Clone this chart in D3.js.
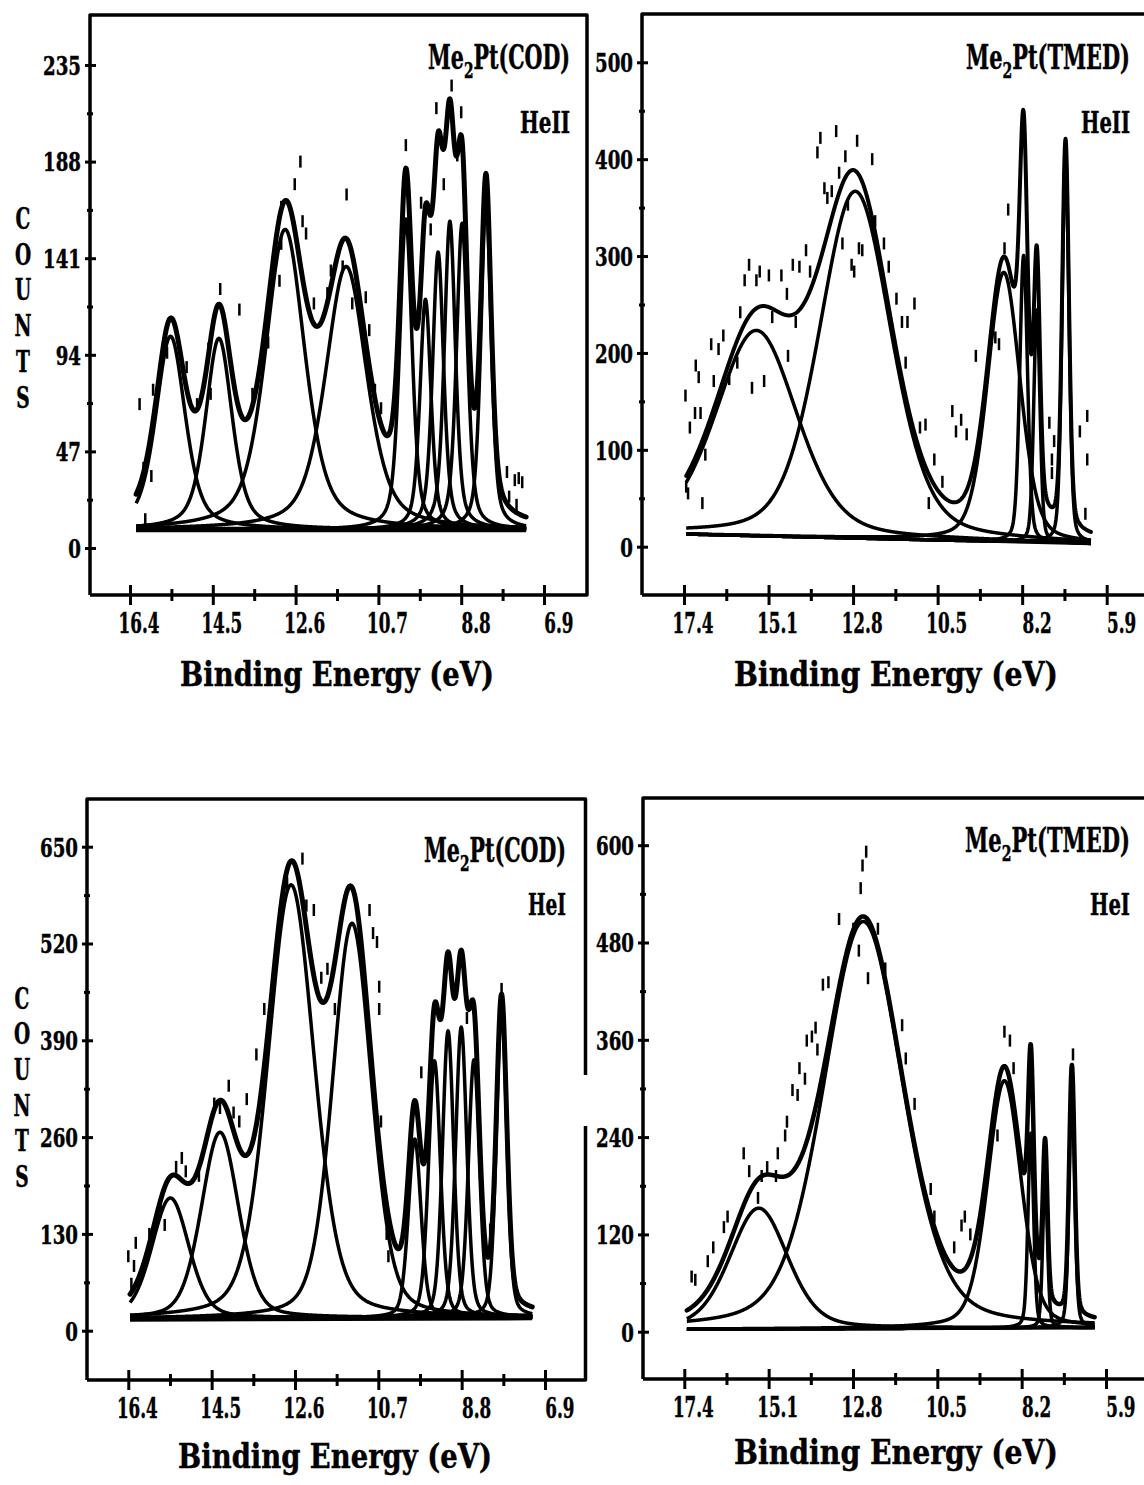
<!DOCTYPE html>
<html>
<head>
<meta charset="utf-8">
<script src="https://cdn.jsdelivr.net/npm/d3@7"></script>
<style>
  body { margin: 0; background: #fff; }
  text { font-family: "DejaVu Serif", serif; font-weight: bold; fill: #000; stroke: #000; stroke-width: 0.5px; }
</style>
</head>
<body>
<div id="chart"></div>
<script>
// axis tick labels
const codTicksX = [16.4, 14.5, 12.6, 10.7, 8.8, 6.9];
const tmedTicksX = [17.4, 15.1, 12.8, 10.5, 8.2, 5.9];
const heIICodTicksY = [0, 47, 94, 141, 188, 235];
const heIITmedTicksY = [0, 100, 200, 300, 400, 500];
const heICodTicksY = [0, 130, 260, 390, 520, 650];
const heITmedTicksY = [0, 120, 240, 360, 480, 600];

// fitted bands: centre (eV), height above background (counts), fwhm (eV)
const heIICodCenters = [15.47, 14.36, 12.84, 11.44, 10.07, 9.62, 9.33, 9.06, 8.78, 8.23];
const heIICodHeights = [94, 93, 146, 128, 151, 112, 135, 150, 149, 160];
const heIICodWidths  = [0.80, 0.72, 1.07, 1.12, 0.34, 0.30, 0.30, 0.30, 0.30, 0.28];
const heIICodBackground = [[16.26, 9], [7.31, 9]];

const heIITmedCenters = [15.43, 12.74, 8.70, 8.16, 7.80, 7.02];
const heIITmedHeights = [212, 358, 278, 296, 240, 402];
const heIITmedWidths  = [2.6, 2.3, 1.05, 0.25, 0.20, 0.22];
const heIITmedBackground = [[17.34, 13], [6.33, 3]];

const heICodCenters = [15.44, 14.31, 12.69, 11.30, 9.87, 9.42, 9.11, 8.81, 8.52, 7.89];
const heICodHeights = [162, 250, 582, 530, 240, 345, 385, 390, 346, 415];
const heICodWidths  = [1.0, 1.0, 1.25, 1.05, 0.34, 0.32, 0.30, 0.30, 0.30, 0.28];
const heICodBackground = [[16.36, 16], [7.19, 18]];

const heITmedCenters = [15.37, 12.52, 8.67, 7.95, 7.56, 6.83];
const heITmedHeights = [149, 502, 305, 240, 190, 308];
const heITmedWidths  = [1.86, 2.55, 1.08, 0.18, 0.15, 0.18];
const heITmedBackground = [[17.33, 3], [6.21, 5]];

// raw counts (eV, counts)
const heIICodPoints = [[16.18,70],[16.09,39],[16.05,14],[15.91,35],[15.87,77],[15.55,95],[15.10,88],[14.86,70],
  [14.60,97],[14.55,75],[14.33,126],[13.89,116],[13.59,75],[13.23,100],[12.97,130],[12.93,148],[12.93,166],
  [12.62,177],[12.49,188],[12.44,159],[12.36,153],[12.18,119],[11.87,124],[11.79,135],[11.52,137],[11.43,172],
  [11.30,119],[10.99,122],[10.91,106],[10.78,77],[10.64,68],[10.07,196],[9.72,168],[9.50,155],[9.37,214],
  [9.20,177],[9.02,225],[8.89,191],[8.80,212],[8.23,171],[7.75,37],[7.70,25],[7.57,33],[7.53,21],[7.48,34],[7.40,32]];

const heIITmedPoints = [[17.34,62],[17.29,55],[17.36,156],[17.24,123],[17.10,138],[17.08,187],[17.00,175],
  [16.95,138],[16.90,45],[16.82,95],[16.66,209],[16.59,171],[16.46,204],[16.33,218],[16.17,173],[15.95,190],
  [15.87,242],[15.75,275],[15.63,291],[15.55,164],[15.43,275],[15.34,284],[15.22,171],[15.09,280],[15.00,237],
  [14.75,280],[14.60,261],[14.57,197],[14.44,291],[14.36,232],[14.26,289],[14.08,306],[13.97,284],[13.77,407],
  [13.69,422],[13.58,370],[13.50,360],[13.38,367],[13.26,429],[13.18,386],[13.09,313],[13.01,403],[12.94,353],
  [12.84,291],[12.77,284],[12.69,419],[12.64,308],[12.55,306],[12.28,400],[12.20,336],[11.96,313],[11.83,289],
  [11.62,256],[11.47,232],[11.32,232],[11.37,190],[11.13,251],[10.98,123],[10.83,126],[10.74,45],[10.59,90],
  [10.37,67],[10.10,140],[10.00,119],[9.86,131],[9.71,116],[9.46,197],[9.32,123],[8.93,216],[8.83,209],
  [8.68,308],[8.58,348],[7.46,128],[7.39,90],[7.33,109],[7.39,76],[6.63,119],[6.43,135],[6.43,90],[6.48,34]];

const heICodPoints = [[16.40,100],[16.27,87],[16.23,118],[16.33,63],[15.92,130],[15.66,160],[15.57,142],
  [15.31,220],[15.18,232],[15.09,214],[14.79,208],[14.44,305],[14.31,299],[14.11,329],[14.00,293],[13.87,281],
  [13.70,311],[13.48,371],[13.30,432],[12.95,558],[12.78,601],[12.43,634],[12.34,571],[12.17,565],[12.00,474],
  [11.86,486],[11.69,432],[11.47,577],[10.90,565],[10.82,534],[10.73,522],[10.68,462],[10.68,432],[10.64,281],
  [10.51,130],[10.47,100],[9.72,347],[8.76,492],[8.68,420],[8.15,136],[7.89,459]];

const heITmedPoints = [[17.20,68],[17.10,64],[16.76,87],[16.61,104],[16.32,129],[16.22,142],[15.78,220],
  [15.63,198],[15.39,165],[15.29,192],[15.14,203],[14.90,192],[14.85,220],[14.65,242],[14.60,259],[14.45,298],
  [14.31,292],[14.26,325],[14.11,312],[14.06,359],[13.92,364],[13.82,375],[13.77,348],[13.62,428],[13.47,431],
  [13.18,509],[12.79,497],[12.64,470],[12.54,575],[12.44,592],[12.59,547],[12.39,436],[12.12,497],[11.92,448],
  [11.46,378],[11.36,337],[11.12,281],[10.68,176],[10.58,142],[10.04,104],[9.84,131],[9.75,142],[9.60,120],
  [8.67,370],[8.52,359],[8.42,325],[8.86,242],[6.80,342]];

const panels = [
  { ligand: "COD", lamp: "HeII", centers: heIICodCenters, heights: heIICodHeights, widths: heIICodWidths,
    eta: 0.5, background: heIICodBackground, points: heIICodPoints, xTicks: codTicksX, yTicks: heIICodTicksY,
    xPix: [130, 544], yPix: [548, 65], frame: { l: 90, r: 587, t: 15, b: 595 },
    lw: { env: 5, comp: 3.5, bg: 5.5 }, title: [570, 69, 142], lampPos: [570, 133, 50],
    xlabel: [337, 686, 314], counts: [23, 218, 397] },
  { ligand: "TMED", lamp: "HeII", centers: heIITmedCenters, heights: heIITmedHeights, widths: heIITmedWidths,
    eta: 0.3, background: heIITmedBackground, points: heIITmedPoints, xTicks: tmedTicksX, yTicks: heIITmedTicksY,
    xPix: [684, 1106.7], yPix: [546.7, 62.3], frame: { l: 642, r: 1152, t: 14, b: 595 },
    lw: { env: 4, comp: 3.5, bg: 3 }, title: [1130, 69, 164], lampPos: [1130, 133, 49],
    xlabel: [896, 686, 324] },
  { ligand: "COD", lamp: "HeI", centers: heICodCenters, heights: heICodHeights, widths: heICodWidths,
    eta: 0.3, background: heICodBackground, points: heICodPoints, xTicks: codTicksX, yTicks: heICodTicksY,
    xPix: [128.3, 545], yPix: [1330.7, 846.7], frame: { l: 87, r: 585.5, t: 799, b: 1380, gap: [1075, 1126] },
    lw: { env: 5, comp: 3.5, bg: 6 }, title: [566, 862, 142], lampPos: [566, 915, 38],
    xlabel: [335, 1468, 314], counts: [22, 998, 1176] },
  { ligand: "TMED", lamp: "HeI", centers: heITmedCenters, heights: heITmedHeights, widths: heITmedWidths,
    eta: 0.3, background: heITmedBackground, points: heITmedPoints, xTicks: tmedTicksX, yTicks: heITmedTicksY,
    xPix: [684.3, 1106], yPix: [1331.7, 845.2], frame: { l: 643, r: 1152, t: 798, b: 1379 },
    lw: { env: 4.5, comp: 3.5, bg: 3.5 }, title: [1130, 852, 165], lampPos: [1130, 915, 40],
    xlabel: [896, 1464, 324] }
];

const svg = d3.select("#chart").append("svg")
  .attr("width", 1144)
  .attr("height", 1485);

svg.append("rect").attr("width", 1144).attr("height", 1485).attr("fill", "#fff");

// pseudo-voigt band shape
function band(e, c, h, w, eta) {
  const t = (e - c) / w;
  return h * (eta / (1 + 4 * t * t) + (1 - eta) * Math.exp(-4 * Math.LN2 * t * t));
}

// squeeze a text to a given width, anchored at its right / middle
function fitText(sel, x, y, w) {
  const bw = sel.node().getBBox().width;
  sel.attr("transform", `translate(${x},${y}) scale(${w / bw},1)`);
}

panels.forEach(p => {
  const x = d3.scaleLinear().domain([p.xTicks[0], p.xTicks[p.xTicks.length - 1]]).range(p.xPix);
  const y = d3.scaleLinear().domain([p.yTicks[0], p.yTicks[p.yTicks.length - 1]]).range(p.yPix);
  const f = p.frame;
  const g = svg.append("g");

  // frame
  const frame = d3.path();
  frame.moveTo(f.l, f.b); frame.lineTo(f.l, f.t); frame.lineTo(f.r, f.t);
  if (f.gap) {
    frame.lineTo(f.r, f.gap[0]);
    frame.moveTo(f.r, f.gap[1]);
  }
  frame.lineTo(f.r, f.b); frame.lineTo(f.l, f.b);
  g.append("path").attr("d", frame.toString())
    .attr("fill", "none").attr("stroke", "#000").attr("stroke-width", 3.5)
    .attr("stroke-linejoin", "round");

  // x axis
  const xMinor = d3.pairs(p.xTicks).map(([a, b]) => (a + b) / 2);
  const gx = g.append("g").attr("transform", `translate(0,${f.b})`)
    .call(d3.axisBottom(x).tickValues(p.xTicks).tickFormat(d3.format(".1f")).tickSize(0));
  gx.select(".domain").remove();
  gx.selectAll(".tick line").attr("y1", -10).attr("y2", 10).attr("stroke", "#000").attr("stroke-width", 3);
  gx.selectAll(".tick text")
    .attr("font-size", 28).attr("text-anchor", "end")
    .attr("x", 29 / 0.6).attr("y", 38).attr("dy", null)
    .attr("transform", "scale(0.6,1)");
  const gxm = g.append("g").attr("transform", `translate(0,${f.b})`)
    .call(d3.axisBottom(x).tickValues(xMinor).tickFormat("").tickSize(0));
  gxm.select(".domain").remove();
  gxm.selectAll(".tick line").attr("y1", -6).attr("y2", 6).attr("stroke", "#000").attr("stroke-width", 3);

  // y axis
  const yMinor = d3.pairs(p.yTicks).map(([a, b]) => (a + b) / 2);
  const gy = g.append("g").attr("transform", `translate(${f.l},0)`)
    .call(d3.axisLeft(y).tickValues(p.yTicks).tickFormat(d3.format("d")).tickSize(0));
  gy.select(".domain").remove();
  gy.selectAll(".tick line").attr("x1", -5).attr("x2", 6).attr("stroke", "#000").attr("stroke-width", 3);
  gy.selectAll(".tick text")
    .attr("font-size", 26).attr("text-anchor", "end")
    .attr("x", -9 / 0.7).attr("dy", "0.36em")
    .attr("transform", "scale(0.7,1)");
  const gym = g.append("g").attr("transform", `translate(${f.l},0)`)
    .call(d3.axisLeft(y).tickValues(yMinor).tickFormat("").tickSize(0));
  gym.select(".domain").remove();
  gym.selectAll(".tick line").attr("x1", -3).attr("x2", 3).attr("stroke", "#000").attr("stroke-width", 3);

  // curves
  const bg = d3.scaleLinear().domain(p.background.map(d => d[0])).range(p.background.map(d => d[1]));
  const energies = d3.range(p.background[0][0], p.background[1][0] - 0.001, -0.01);
  const line = d3.line().x(d => x(d[0])).y(d => y(d[1]));

  g.append("path")
    .attr("d", line(p.background))
    .attr("fill", "none").attr("stroke", "#000").attr("stroke-width", p.lw.bg);

  p.centers.forEach((c, i) => {
    const comp = energies.map(e => [e, bg(e) + band(e, c, p.heights[i], p.widths[i], p.eta)]);
    g.append("path")
      .attr("d", line(comp))
      .attr("fill", "none").attr("stroke", "#000").attr("stroke-width", p.lw.comp)
      .attr("stroke-linejoin", "round");
  });

  const env = energies.map(e => [e, bg(e) + d3.sum(p.centers, (c, i) => band(e, c, p.heights[i], p.widths[i], p.eta))]);
  g.append("path")
    .attr("d", line(env))
    .attr("fill", "none").attr("stroke", "#000").attr("stroke-width", p.lw.env)
    .attr("stroke-linejoin", "round").attr("stroke-linecap", "round");

  // raw data dashes
  g.selectAll(".pt")
    .data(p.points)
    .enter()
    .append("line")
    .attr("x1", d => x(d[0])).attr("x2", d => x(d[0]))
    .attr("y1", d => y(d[1]) - 6).attr("y2", d => y(d[1]) + 6)
    .attr("stroke", "#000").attr("stroke-width", 2.5);

  // labels
  const t = g.append("text").attr("text-anchor", "end").attr("font-size", 33);
  t.append("tspan").text("Me");
  t.append("tspan").attr("font-size", 22).attr("dy", 9).text("2");
  t.append("tspan").attr("dy", -9).text("Pt(" + p.ligand + ")");
  fitText(t, p.title[0], p.title[1], p.title[2]);

  const lamp = g.append("text").attr("text-anchor", "end").attr("font-size", 30).text(p.lamp);
  fitText(lamp, p.lampPos[0], p.lampPos[1], p.lampPos[2]);

  const xl = g.append("text").attr("text-anchor", "middle").attr("font-size", 34).text("Binding Energy (eV)");
  fitText(xl, p.xlabel[0], p.xlabel[1], p.xlabel[2]);

  if (p.counts) {
    const letters = "COUNTS".split("");
    const ly = d3.scalePoint().domain(d3.range(letters.length)).range([p.counts[1], p.counts[2]]);
    g.selectAll(".counts")
      .data(letters)
      .enter()
      .append("text")
      .attr("text-anchor", "middle")
      .attr("font-size", 30)
      .attr("dy", "0.36em")
      .attr("transform", (d, i) => `translate(${p.counts[0]},${ly(i)}) scale(0.62,1)`)
      .text(d => d);
  }
});
</script>
</body>
</html>
